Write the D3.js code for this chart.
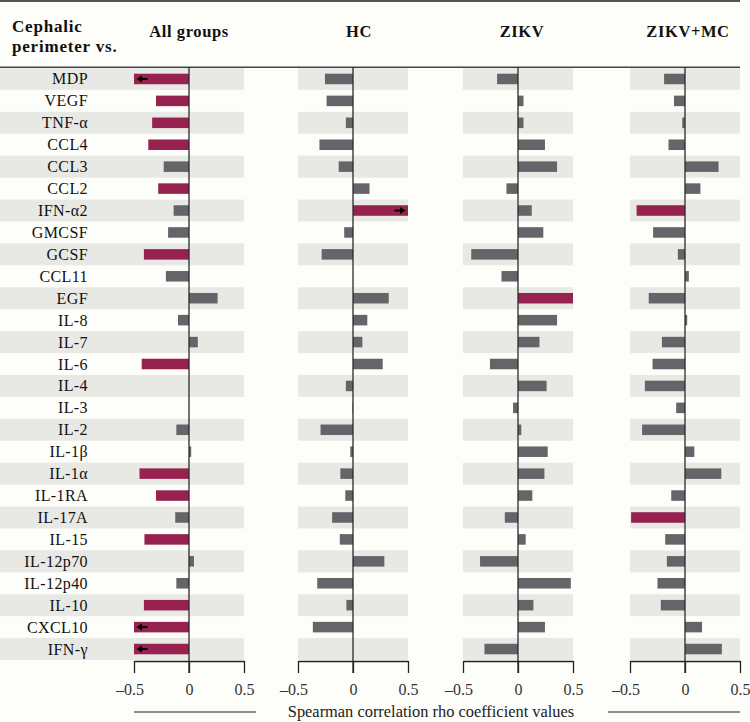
<!DOCTYPE html>
<html><head><meta charset="utf-8">
<script src="https://cdn.jsdelivr.net/npm/d3@7"></script>
<style>html,body{margin:0;padding:0;background:#fdfdf9;} svg{display:block;}</style>
</head><body><svg id="c" width="750" height="722"></svg>
<script>
// ---------- DATA ----------
const categories = ["MDP","VEGF","TNF-α","CCL4","CCL3","CCL2","IFN-α2","GMCSF","GCSF","CCL11","EGF","IL-8","IL-7","IL-6","IL-4","IL-3","IL-2","IL-1β","IL-1α","IL-1RA","IL-17A","IL-15","IL-12p70","IL-12p40","IL-10","CXCL10","IFN-γ"];
const groupNames = ["All groups","HC","ZIKV","ZIKV+MC"];
const allGroups = [-0.5,-0.30,-0.335,-0.37,-0.23,-0.28,-0.14,-0.19,-0.41,-0.21,0.26,-0.10,0.08,-0.43,0,0,-0.115,0.02,-0.45,-0.30,-0.125,-0.405,0.045,-0.115,-0.41,-0.5,-0.5];
const hc = [-0.255,-0.24,-0.065,-0.305,-0.13,0.15,0.5,-0.08,-0.285,0,0.325,0.13,0.085,0.27,-0.065,-0.005,-0.295,-0.025,-0.115,-0.07,-0.19,-0.12,0.285,-0.325,-0.06,-0.365,0];
const zikv = [-0.19,0.05,0.05,0.245,0.355,-0.105,0.125,0.23,-0.425,-0.15,0.5,0.355,0.195,-0.255,0.26,-0.045,0.03,0.27,0.24,0.13,-0.12,0.07,-0.345,0.48,0.14,0.245,-0.305];
const zikvMc = [-0.19,-0.10,-0.025,-0.15,0.305,0.14,-0.44,-0.29,-0.065,0.035,-0.33,0.02,-0.21,-0.295,-0.365,-0.08,-0.39,0.085,0.33,-0.125,-0.49,-0.18,-0.165,-0.25,-0.22,0.155,0.335];
// significant correlations (highlighted) per group
const sigAll = ["MDP","VEGF","TNF-α","CCL4","CCL2","GCSF","IL-6","IL-1α","IL-1RA","IL-15","IL-10","CXCL10","IFN-γ"];
const sigHc = ["IFN-α2"];
const sigZikv = ["EGF"];
const sigZikvMc = ["IFN-α2","IL-17A"];
// values beyond the axis range (drawn with an arrow)
const truncAll = ["MDP","CXCL10","IFN-γ"];
const truncHc = ["IFN-α2"];
const truncZikv = [];
const truncZikvMc = [];
const tickValues = [-0.5, 0, 0.5];
const tickLabels = ["–0.5", "0", "0.5"];
const axisTitle = "Spearman correlation rho coefficient values";
const headerLines = ["Cephalic", "perimeter vs."];

// ---------- LAYOUT ----------
const W = 750, H = 722;
const rowTop = 68, rowBottom = 660;
const panelLeft = [134, 298, 463, 630];
const panelWidth = 110;
const headerX = [189, 359, 522, 688];
const serif = "'Liberation Serif','Times New Roman',serif";
const C = {bg:"#fdfdf9", band:"#e8e8e5", grey:"#646469", sig:"#97214f", ink:"#222"};

const series = [
  {name: groupNames[0], values: allGroups, sig: sigAll, trunc: truncAll},
  {name: groupNames[1], values: hc, sig: sigHc, trunc: truncHc},
  {name: groupNames[2], values: zikv, sig: sigZikv, trunc: truncZikv},
  {name: groupNames[3], values: zikvMc, sig: sigZikvMc, trunc: truncZikvMc}
];

const svg = d3.select("#c");
svg.append("rect").attr("width", W).attr("height", H).attr("fill", C.bg);

const yRow = d3.scaleBand().domain(categories).range([rowTop, rowBottom]);
const yBar = d3.scaleBand().domain(categories).range([rowTop, rowBottom]).paddingInner(0.52).paddingOuter(0.26);
const step = yRow.step();

// bands
series.forEach((s, pi) => {
  const x = d3.scaleLinear().domain([-0.5, 0.5]).range([panelLeft[pi], panelLeft[pi] + panelWidth]);
  const x0 = pi === 0 ? 0 : x(-0.5);
  const x1 = x(0.5);
  svg.append("g").selectAll("rect")
    .data(categories.filter((d, i) => i % 2 === 0))
    .join("rect")
    .attr("x", x0).attr("width", x1 - x0)
    .attr("y", d => yRow(d)).attr("height", step)
    .attr("fill", C.band);
});

// lines top
svg.append("line").attr("x1", 0).attr("x2", 740).attr("y1", 1).attr("y2", 1)
  .attr("stroke", "#555").attr("stroke-width", 2);
svg.append("line").attr("x1", 0).attr("x2", 740).attr("y1", 67.3).attr("y2", 67.3)
  .attr("stroke", "#444").attr("stroke-width", 1.5);

// bars, arrows, axes
series.forEach((s, pi) => {
  const x = d3.scaleLinear().domain([-0.5, 0.5]).range([panelLeft[pi], panelLeft[pi] + panelWidth]).clamp(true);
  const g = svg.append("g");
  const rows = categories.map((c, i) => ({c, v: s.values[i]}));
  g.selectAll("rect.bar").data(rows.filter(d => d.v !== 0)).join("rect")
    .attr("class", "bar")
    .attr("x", d => Math.min(x(0), x(d.v)))
    .attr("width", d => Math.abs(x(d.v) - x(0)))
    .attr("y", d => yBar(d.c)).attr("height", yBar.bandwidth())
    .attr("fill", d => s.sig.includes(d.c) ? C.sig : C.grey);

  // arrows for truncated values
  rows.filter(d => s.trunc.includes(d.c)).forEach(d => {
    const dir = d.v < 0 ? -1 : 1;
    const tip = x(d.v) - dir * 2.5;
    const cy = yRow(d.c) + step / 2;
    g.append("line").attr("x1", tip - dir * 4).attr("x2", tip - dir * 11)
      .attr("y1", cy).attr("y2", cy).attr("stroke", "#000").attr("stroke-width", 2);
    g.append("path")
      .attr("d", `M${tip},${cy} L${tip - dir * 5.5},${cy - 3.5} L${tip - dir * 5.5},${cy + 3.5} Z`)
      .attr("fill", "#000");
  });

  // zero line
  g.append("line").attr("x1", x(0)).attr("x2", x(0)).attr("y1", 67).attr("y2", 673)
    .attr("stroke", "#2a2a2a").attr("stroke-width", 1.3);

  // axis
  const ax = g.append("g").attr("transform", `translate(0,661)`)
    .call(d3.axisBottom(x).tickValues(tickValues)
      .tickFormat((d, i) => tickLabels[i]).tickSize(12).tickSizeOuter(0).tickPadding(11));
  ax.select(".domain").attr("stroke", C.ink).attr("stroke-width", 1.3);
  ax.selectAll(".tick line").attr("stroke", C.ink).attr("stroke-width", 1.3);
  ax.selectAll(".tick text").attr("font-family", serif).attr("font-size", 16).attr("fill", "#333")
    .attr("dx", d => d < 0 ? -4.5 : 0);

  // header
  svg.append("text").attr("x", headerX[pi]).attr("y", 37).attr("text-anchor", "middle")
    .attr("font-family", serif).attr("font-weight", "bold").attr("font-size", 16.5)
    .attr("letter-spacing", 0.6).attr("fill", "#111").text(s.name);
});

// row labels
svg.append("g").selectAll("text").data(categories).join("text")
  .attr("x", 88).attr("y", d => yRow(d) + step / 2 + 5.5)
  .attr("text-anchor", "end").attr("font-family", serif).attr("font-size", 16)
  .attr("letter-spacing", 0.4).attr("fill", "#111").text(d => d);

// header left
svg.append("g").selectAll("text").data(headerLines).join("text")
  .attr("x", 12).attr("y", (d, i) => 32 + i * 20)
  .attr("font-family", serif).attr("font-weight", "bold").attr("font-size", 17)
  .attr("letter-spacing", 0.8).attr("fill", "#111").text(d => d);

// bottom lines + title
svg.append("line").attr("x1", 134).attr("x2", 256).attr("y1", 712).attr("y2", 712)
  .attr("stroke", C.ink).attr("stroke-width", 1.2);
svg.append("line").attr("x1", 608).attr("x2", 740).attr("y1", 712).attr("y2", 712)
  .attr("stroke", C.ink).attr("stroke-width", 1.2);
svg.append("text").attr("x", 431).attr("y", 717).attr("text-anchor", "middle")
  .attr("font-family", serif).attr("font-size", 16.4).attr("fill", "#222").text(axisTitle);
</script>
</body></html>
